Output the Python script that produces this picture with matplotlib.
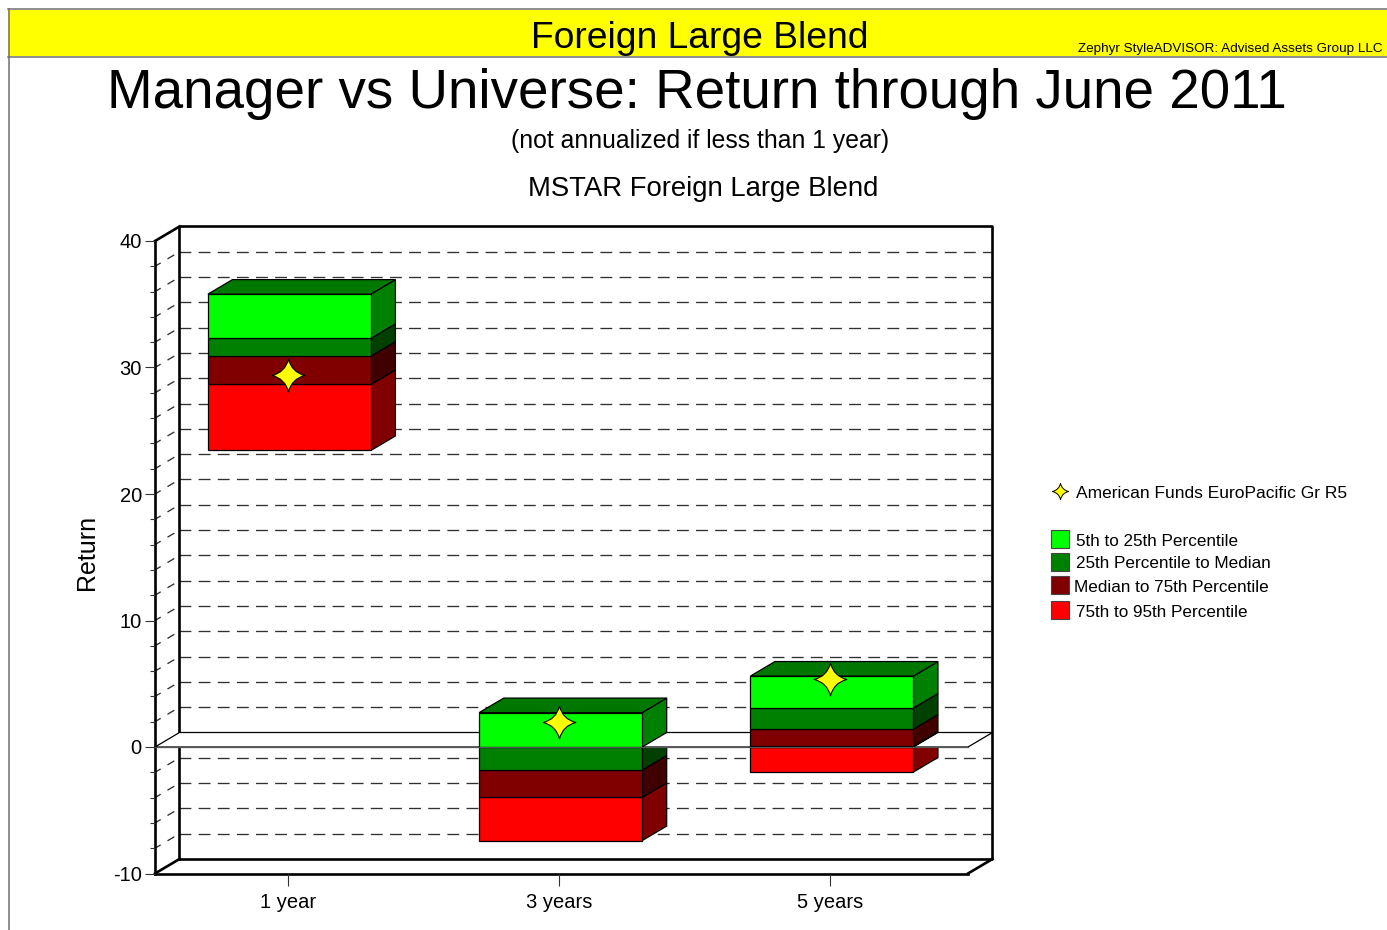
import matplotlib
matplotlib.use('Agg')
import matplotlib.pyplot as plt
from matplotlib.lines import Line2D
from matplotlib.patches import Polygon, Rectangle
from matplotlib.path import Path

plt.rcParams['font.family'] = ['Liberation Sans', 'DejaVu Sans']
plt.rcParams['axes.unicode_minus'] = False

categories = ['1 year', '3 years', '5 years']
p5 = [35.8, 2.72, 5.61]
p25 = [32.3, 0.0, 3.08]
median = [30.9, -1.82, 1.42]
p75 = [28.66, -3.98, 0.05]
p95 = [23.44, -7.4, -1.98]
manager = [29.4, 1.98, 5.4]

y_major = [-10, 0, 10, 20, 30, 40]
y_minor = [-8, -6, -4, -2, 2, 4, 6, 8, 12, 14, 16, 18, 22, 24, 26, 28, 32, 34, 36, 38]
grid_vals = [-8, -6, -4, -2, 2, 4, 6, 8, 10, 12, 14, 16, 18, 20, 22, 24, 26, 28, 30, 32, 34, 36, 38]

manager_name = 'American Funds EuroPacific Gr R5'
band_labels = ['5th to 25th Percentile', '25th Percentile to Median',
               'Median to 75th Percentile', '75th to 95th Percentile']
band_front = ['#00ff00', '#008000', '#800000', '#ff0000']
band_side = ['#008000', '#004000', '#400000', '#800000']

W, H = 1387, 930


def fx(x):
    return x / W


def fy(y):
    return 1 - y / H


fig = plt.figure(figsize=(13.87, 9.30), dpi=100)
ax = fig.add_axes([fx(155), fy(873.5), 813 / W, 632.5 / H])
xmin, xmax = -0.49, 2.507
ax.set_xlim(xmin, xmax)
ax.set_ylim(-10, 40)
for s in ax.spines.values():
    s.set_visible(False)
ax.patch.set_visible(False)

# depth of the fake 3d box, in data units
dx = 24.5 / 271.3
dy = 14.5 / 12.65
bar_w = 163 / 271.3
bar_shift = 1.5 / 271.3

# page frame and banner
fig.add_artist(Rectangle((fx(8), fy(56)), (W - 8) / W, 46 / H, transform=fig.transFigure,
                         fc='yellow', ec='none', zorder=0))
for xs, ys in [((8, W), (9, 9)), ((8, W), (56.8, 56.8)), ((8.5, 8.5), (9, H))]:
    fig.add_artist(Line2D([fx(v) for v in xs], [fy(v) for v in ys], color='#707070', lw=1.1))

# back wall, floor and left wall
dash = (0, (9, 5.5))
for v in grid_vals:
    ax.plot([xmin + dx, xmax + dx * 0.95], [v + dy, v + dy], color='#303030', lw=0.95,
            linestyle=dash, clip_on=False, zorder=1)
for v in y_major + y_minor:
    if v in (-10, 0, 40):
        continue
    ax.plot([xmin, xmin + dx], [v, v + dy], color='#303030', lw=0.95, linestyle=(1, (6, 6)),
            clip_on=False, zorder=1)

lw_box = 1.9
box = [([xmin + dx, xmax + dx, xmax + dx, xmin + dx, xmin + dx], [-10 + dy, -10 + dy, 40 + dy, 40 + dy, -10 + dy]),
       ([xmin, xmin], [-10, 40]),
       ([xmin, xmin + dx], [40, 40 + dy]),
       ([xmin, xmin + dx], [-10, -10 + dy]),
       ([xmax, xmax + dx], [-10, -10 + dy]),
       ([xmin, xmax], [-10, -10])]
for xs, ys in box:
    ax.plot(xs, ys, color='black', lw=lw_box, clip_on=False, zorder=1.5, solid_capstyle='projecting')


def draw_piece(x0, x1, lo, hi, front, side, z):
    ax.add_patch(Polygon([(x1, lo), (x1 + dx, lo + dy), (x1 + dx, hi + dy), (x1, hi)],
                         fc=side, ec='black', lw=0.9, clip_on=False, zorder=z))
    ax.add_patch(Polygon([(x0, lo), (x1, lo), (x1, hi), (x0, hi)],
                         fc=front, ec='black', lw=0.9, clip_on=False, zorder=z))


def draw_bar(i, below):
    x0 = i + bar_shift - bar_w / 2
    x1 = i + bar_shift + bar_w / 2
    edges = [p95[i], p75[i], median[i], p25[i], p5[i]]
    z = 3 if below else 5
    for k in range(4):
        lo, hi = edges[k], edges[k + 1]
        if below:
            lo, hi = lo, min(hi, 0)
        else:
            lo, hi = max(lo, 0), hi
        if hi > lo:
            draw_piece(x0, x1, lo, hi, band_front[3 - k], band_side[3 - k], z + k * 0.1)
    top = edges[-1]
    if (top > 0) != below:
        ax.add_patch(Polygon([(x0, top), (x1, top), (x1 + dx, top + dy), (x0 + dx, top + dy)],
                             fc='#007800', ec='black', lw=0.9, clip_on=False, zorder=z + 0.5))


for i in range(len(categories)):
    draw_bar(i, True)

# zero plane sits between the parts of the bars below and above zero
ax.add_patch(Polygon([(xmin, 0), (xmax, 0), (xmax + dx, dy), (xmin + dx, dy)],
                     fc='white', ec='black', lw=0.9, clip_on=False, zorder=4))

for i in range(len(categories)):
    draw_bar(i, False)
ax.plot([xmin, xmax], [0, 0], color='#555555', lw=0.9, clip_on=False, zorder=6)

star = Path([(0, 1), (0.2, 0.2), (1, 0), (0.2, -0.2), (0, -1), (-0.2, -0.2), (-1, 0), (-0.2, 0.2), (0, 1)],
            [Path.MOVETO] + [Path.CURVE3] * 8)
ax.plot(range(len(categories)), manager, linestyle='none', marker=star, ms=23.5, mfc='yellow',
        mec='black', mew=0.8, clip_on=False, zorder=8)

ax.set_xticks(range(len(categories)))
ax.set_xticklabels(categories, fontsize=14.5)
ax.set_yticks(y_major)
ax.set_yticks(y_minor, minor=True)
ax.tick_params(axis='x', length=8.5, width=0.8, pad=5.5, color='#333333')
ax.tick_params(axis='y', which='major', length=7.5, width=0.8, pad=2, labelsize=14.5, color='#333333')
ax.tick_params(axis='y', which='minor', length=3.5, width=0.8, color='#333333')

fig.text(fx(87), fy(552), 'Return', fontsize=18, rotation=90, ha='center', va='center')

# titles
fig.text(fx(700), fy(48.5), 'Foreign Large Blend', fontsize=26.8, ha='center', va='baseline')
fig.text(fx(1382), fy(52), 'Zephyr StyleADVISOR: Advised Assets Group LLC', fontsize=9.7, ha='right', va='baseline')
fig.text(fx(697), fy(107.5), 'Manager vs Universe: Return through June 2011', fontsize=39.4, ha='center', va='baseline')
fig.text(fx(700), fy(148), '(not annualized if less than 1 year)', fontsize=17.85, ha='center', va='baseline')
fig.text(fx(703), fy(196), 'MSTAR Foreign Large Blend', fontsize=19.8, ha='center', va='baseline')

# legend
fig.add_artist(Line2D([fx(1060)], [fy(491.5)], linestyle='none', marker=star, ms=11.5, mfc='yellow',
                      mec='black', mew=0.7, transform=fig.transFigure))
fig.text(fx(1076), fy(493), manager_name, fontsize=12.5, va='center')
swatch_y = [530, 553, 576, 601]
label_x = [1076, 1076, 1074, 1076]
for lab, col, sy, lx in zip(band_labels, band_front, swatch_y, label_x):
    fig.add_artist(Rectangle((fx(1051), fy(sy + 18)), 18 / W, 18 / H, transform=fig.transFigure,
                             fc=col, ec='#444444', lw=0.8))
    fig.text(fx(lx), fy(sy + 11), lab, fontsize=12.3, va='center')

plt.savefig('out.png', dpi=100)
